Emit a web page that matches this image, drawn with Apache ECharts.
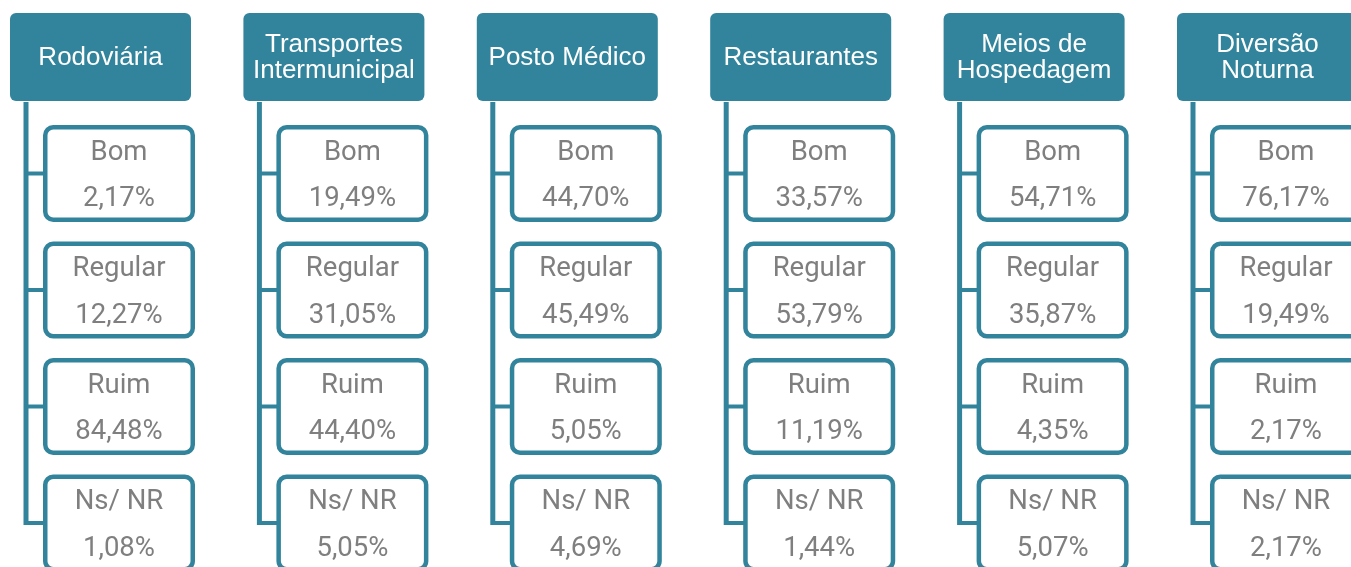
<!DOCTYPE html>
<html>
<head>
<meta charset="utf-8">
<script src="https://cdn.jsdelivr.net/npm/echarts@6/dist/echarts.min.js"></script>
<style>
  html, body { margin: 0; padding: 0; background: #ffffff; }
  #chart { width: 1351px; height: 567px; }
</style>
</head>
<body>
<div id="chart"></div>
<script>
// ---- data ----
const categories = ['Rodoviária', 'Transportes\nIntermunicipal', 'Posto Médico', 'Restaurantes', 'Meios de\nHospedagem', 'Diversão\nNoturna'];
const ratings = ['Bom', 'Regular', 'Ruim', 'Ns/ NR'];
const bom = [2.17, 19.49, 44.70, 33.57, 54.71, 76.17];
const regular = [12.27, 31.05, 45.49, 53.79, 35.87, 19.49];
const ruim = [84.48, 44.40, 5.05, 11.19, 4.35, 2.17];
const nsnr = [1.08, 5.05, 4.69, 1.44, 5.07, 2.17];
const levels = ['header'].concat(ratings);

// ---- build data items: [catIndex, levelIndex, value] ----
const seriesValues = [bom, regular, ruim, nsnr];
const items = [];
categories.forEach(function (c, ci) {
  items.push([ci, 0, null]);
  seriesValues.forEach(function (arr, ri) {
    items.push([ci, ri + 1, arr[ci]]);
  });
});

const TEAL = '#31849B';
const GRAY = '#7F7F7F';
const HFONT = '26px "Liberation Sans"';
const CFONT = '27.5px Roboto, "Liberation Sans", sans-serif';

function fmt(v) { return v.toFixed(2).replace('.', ',') + '%'; }

function renderItem(params, api) {
  const ci = api.value(0);
  const li = api.value(1);
  const p = api.coord([ci, li]);
  const cx = p[0], cy = p[1];
  if (li === 0) {
    const last = api.coord([ci, levels.length - 1]);
    const hw = 181, hh = 88;
    return {
      type: 'group',
      children: [
        { type: 'rect', shape: { x: cx - 74.5 - 2.5, y: cy + hh / 2 + 1, width: 5, height: last[1] - (cy + hh / 2 + 1) + 2 }, style: { fill: TEAL } },
        { type: 'rect', shape: { x: cx - hw / 2, y: cy - hh / 2, width: hw, height: hh, r: 6 }, style: { fill: TEAL } },
        { type: 'text', x: cx, y: cy + 1, style: { text: categories[ci], fill: '#ffffff', font: HFONT, align: 'center', verticalAlign: 'middle', lineHeight: 26 } }
      ]
    };
  }
  const bx = cx + 18.5;
  const bw = 152 - 4.5, bh = 97 - 4.5;
  return {
    type: 'group',
    children: [
      { type: 'rect', shape: { x: cx - 74.5, y: cy - 2, width: bx - bw / 2 - (cx - 74.5), height: 4 }, style: { fill: TEAL } },
      { type: 'rect', shape: { x: bx - bw / 2, y: cy - bh / 2, width: bw, height: bh, r: 8 }, style: { fill: '#ffffff', stroke: TEAL, lineWidth: 4.5 } },
      { type: 'text', x: bx, y: cy - 20.5, style: { text: ratings[li - 1], fill: GRAY, font: CFONT, align: 'center', verticalAlign: 'middle' } },
      { type: 'text', x: bx, y: cy + 26, style: { text: fmt(api.value(2)), fill: GRAY, font: CFONT, align: 'center', verticalAlign: 'middle' } }
    ]
  };
}

const chart = echarts.init(document.getElementById('chart'));
chart.setOption({
  animation: false,
  grid: { left: 100.5, right: 83.5, top: 57, bottom: 44 },
  xAxis: { type: 'category', data: categories, boundaryGap: false, show: false },
  yAxis: { type: 'category', data: levels, boundaryGap: false, inverse: true, show: false },
  series: [{
    type: 'custom',
    renderItem: renderItem,
    data: items,
    clip: false,
    encode: { x: 0, y: 1 }
  }]
});
</script>
</body>
</html>
